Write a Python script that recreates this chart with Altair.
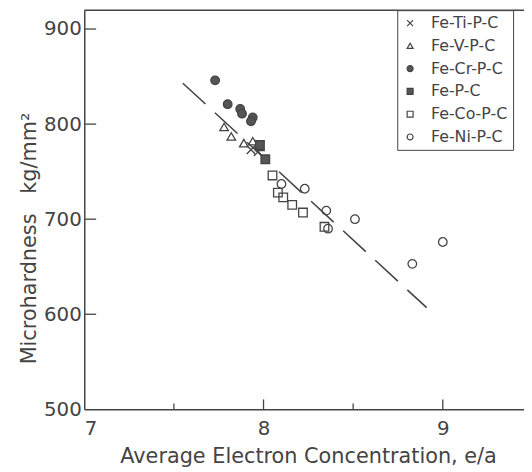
import altair as alt
import pandas as pd

# ---- data ----
ti_x = [7.93, 7.97]
ti_y = [773, 771]
v_x = [7.78, 7.82, 7.89, 7.94, 7.98]
v_y = [797, 787, 780, 782, 776]
cr_x = [7.73, 7.80, 7.87, 7.88, 7.94, 7.93]
cr_y = [846, 821, 816, 811, 807, 803]
p_x = [7.98, 8.01]
p_y = [778, 763]
co_x = [8.05, 8.08, 8.11, 8.16, 8.22, 8.34]
co_y = [746, 728, 723, 715, 707, 692]
ni_x = [8.10, 8.23, 8.35, 8.51, 8.36, 8.83, 9.00]
ni_y = [737, 732, 709, 700, 690, 653, 676]

fit_x = [7.55, 8.91]
fit_y = [843, 607]

series = ["Fe-Ti-P-C", "Fe-V-P-C", "Fe-Cr-P-C", "Fe-P-C", "Fe-Co-P-C", "Fe-Ni-P-C"]
xs = [ti_x, v_x, cr_x, p_x, co_x, ni_x]
ys = [ti_y, v_y, cr_y, p_y, co_y, ni_y]

x_major = [8, 9]
x_minor = [7.5, 8.5]
y_major = [600, 700, 800, 900]

rows = []
for s, xv, yv in zip(series, xs, ys):
    for a, b in zip(xv, yv):
        rows.append({"alloy": s, "ea": a, "hv": b})
pts = pd.DataFrame(rows)
line_df = pd.DataFrame({"ea": fit_x, "hv": fit_y})

W, H = 444, 403
INK = "#444444"
FONT = "DejaVu Sans"

xscale = alt.Scale(domain=[7, 9.453], nice=False, zero=False)
yscale = alt.Scale(domain=[500, 919.8], nice=False, zero=False)

shape_scale = alt.Scale(
    domain=series,
    range=["M-1,-1L1,1M-1,1L1,-1", "triangle-up", "circle", "square", "square", "circle"],
)
fill_scale = alt.Scale(
    domain=series,
    range=["transparent", "transparent", "#555555", "#555555", "transparent", "transparent"],
)
stroke_scale = alt.Scale(domain=series, range=[INK] * 6)

legend = alt.Legend(
    title=None, orient="none", legendX=316, legendY=0,
    strokeColor=INK, fillColor="white", padding=5, cornerRadius=0,
    labelFont=FONT, labelFontSize=16, labelColor=INK, labelOffset=13,
    symbolSize=36, symbolStrokeWidth=1.2,
    rowPadding=7,
)

points = alt.Chart(pts).mark_point(size=75, strokeWidth=1.3, opacity=1).encode(
    x=alt.X("ea:Q", scale=xscale,
            axis=alt.Axis(title="Average Electron Concentration, e/a", values=[7, 8, 9],
                          ticks=False, labelPadding=9, titlePadding=8, titleX=226, format="d")),
    y=alt.Y("hv:Q", scale=yscale,
            axis=alt.Axis(title="Microhardness\u00a0\u00a0\u00a0kg/mm²", values=[500, 600, 700, 800, 900],
                          ticks=False, labelPadding=3, titlePadding=4, titleY=230)),
    shape=alt.Shape("alloy:N", scale=shape_scale, legend=legend),
    fill=alt.Fill("alloy:N", scale=fill_scale, legend=legend),
    stroke=alt.Stroke("alloy:N", scale=stroke_scale, legend=legend),
)

fit = alt.Chart(line_df).mark_line(color=INK, strokeWidth=1.6, strokeDash=[31, 13]).encode(
    x=alt.X("ea:Q", scale=xscale),
    y=alt.Y("hv:Q", scale=yscale),
)

xt_major = alt.Chart(pd.DataFrame({"t": x_major})).mark_rule(color=INK, strokeWidth=1.3).encode(
    x=alt.X("t:Q", scale=xscale), y=alt.value(H), y2=alt.value(H - 10))
xt_minor = alt.Chart(pd.DataFrame({"t": x_minor})).mark_rule(color=INK, strokeWidth=1.3).encode(
    x=alt.X("t:Q", scale=xscale), y=alt.value(H), y2=alt.value(H - 6))
yt_major = alt.Chart(pd.DataFrame({"t": y_major})).mark_rule(color=INK, strokeWidth=1.3).encode(
    y=alt.Y("t:Q", scale=yscale), x=alt.value(0), x2=alt.value(12))
top = alt.Chart(pd.DataFrame({"t": [0]})).mark_rule(color=INK, strokeWidth=1.5).encode(
    x=alt.value(0), x2=alt.value(W), y=alt.value(0))

chart = alt.layer(fit, points, xt_major, xt_minor, yt_major, top).properties(
    width=W, height=H,
    autosize=alt.AutoSizeParams(type="none"),
    padding={"left": 77, "top": 0, "right": 0, "bottom": 56},
    background="white",
).configure_view(stroke=None).configure_axis(
    domainColor=INK, domainWidth=1.5, grid=False,
    labelFont=FONT, labelFontSize=20, labelColor=INK,
    titleFont=FONT, titleFontSize=21, titleColor=INK, titleFontWeight="normal",
)

chart.save("out.html", embed_options={"renderer": "svg", "actions": False})
